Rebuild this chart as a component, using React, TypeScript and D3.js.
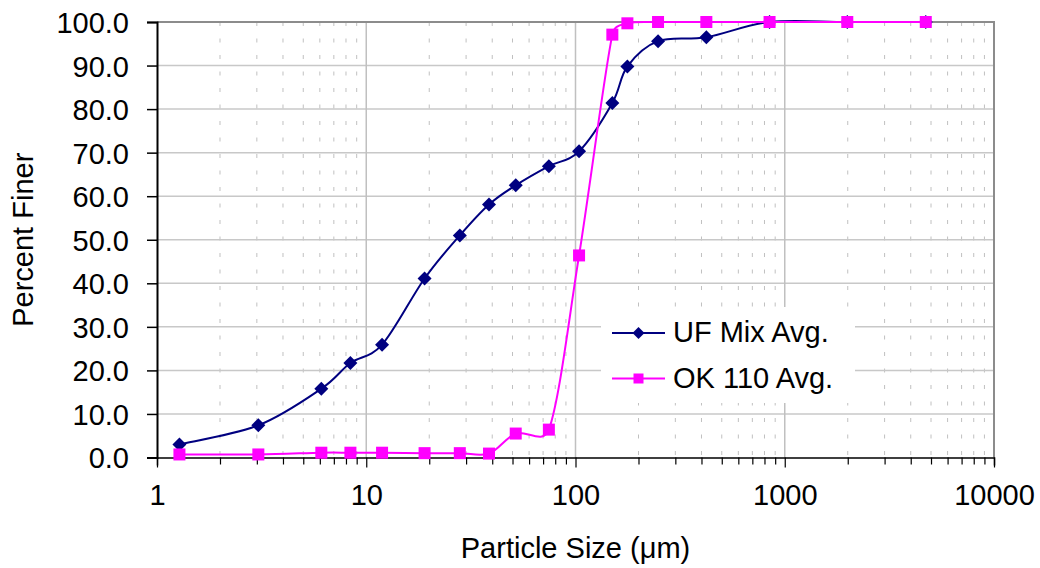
import React, { useEffect, useRef } from 'react';
import * as d3 from 'd3';

// sieve sizes (µm)
const sizes = [1.28, 3.05, 6.1, 8.4, 11.9, 19, 28, 38.6, 51.8, 74.6, 104, 150, 177, 248, 422, 846, 1990, 4720];
// percent finer
const ufMix = [3.0, 7.4, 15.8, 21.7, 25.9, 41.1, 51.0, 58.1, 62.5, 66.9, 70.3, 81.4, 89.8, 95.6, 96.5, 100, 100, 100];
const ok110 = [0.7, 0.7, 1.1, 1.1, 1.1, 1.0, 1.0, 0.9, 5.5, 6.4, 46.4, 97.1, 99.7, 100, 100, 100, 100, 100];
const seriesNames = ['UF Mix Avg.', 'OK 110 Avg.'];
const yTicks = [0, 10, 20, 30, 40, 50, 60, 70, 80, 90, 100];
const xTicks = [1, 10, 100, 1000, 10000];

const W = 1040;
const H = 568;
const FONT = 'Arial, "Liberation Sans", sans-serif';

// spreadsheet-style smoothing: cubic bezier with tangents (P[i+1]-P[i-1])/6,
// control arms limited to half of the segment so steep steps don't overshoot much
const smoothPath = (pts: [number, number][]) => {
    const p = d3.path();
    const n = pts.length;
    p.moveTo(pts[0][0], pts[0][1]);
    const tan = pts.map((pt, i) => {
        const a = pts[Math.max(0, i - 1)];
        const b = pts[Math.min(n - 1, i + 1)];
        return [(b[0] - a[0]) / 6, (b[1] - a[1]) / 6];
    });
    const clamp = (t: number[], max: number) => {
        const len = Math.hypot(t[0], t[1]);
        if (len <= max || len === 0) return t;
        return [t[0] * max / len, t[1] * max / len];
    };
    for (let i = 0; i < n - 1; i++) {
        const a = pts[i], b = pts[i + 1];
        const seg = Math.hypot(b[0] - a[0], b[1] - a[1]);
        const t0 = clamp(tan[i], seg / 2);
        const t1 = clamp(tan[i + 1], seg / 2);
        p.bezierCurveTo(a[0] + t0[0], a[1] + t0[1], b[0] - t1[0], b[1] - t1[1], b[0], b[1]);
    }
    return p.toString();
};

const App = () => {
    const svgRef = useRef<SVGSVGElement>(null);

    useEffect(() => {
        const svg = d3.select(svgRef.current);
        svg.selectAll('*').remove();

        const left = 157, right = 994, top = 22, bottom = 457.5;

        const x = d3.scaleLog().domain([1, 10000]).range([left, right]);
        const y = d3.scaleLinear().domain([0, 100]).range([bottom, top]);

        // minor positions 2..9 per decade
        const minors: number[] = [];
        for (let d = 1; d < 10000; d *= 10) {
            for (let k = 2; k <= 9; k++) minors.push(d * k);
        }

        const grid = svg.append('g');
        // dashed minor verticals
        grid.selectAll('line.minor')
            .data(minors)
            .join('line')
            .attr('x1', d => x(d)).attr('x2', d => x(d))
            .attr('y1', top).attr('y2', bottom)
            .attr('stroke', '#c0c0c0')
            .attr('stroke-width', 1)
            .attr('stroke-dasharray', '4,12.5');
        // solid horizontal gridlines
        grid.selectAll('line.h')
            .data(yTicks.slice(1))
            .join('line')
            .attr('x1', left).attr('x2', right)
            .attr('y1', d => y(d)).attr('y2', d => y(d))
            .attr('stroke', '#c8c8c8')
            .attr('stroke-width', 1.5);
        // decade verticals
        grid.selectAll('line.v')
            .data(xTicks.slice(1, -1))
            .join('line')
            .attr('x1', d => x(d)).attr('x2', d => x(d))
            .attr('y1', top).attr('y2', bottom)
            .attr('stroke', '#c0c0c0')
            .attr('stroke-width', 1.5);

        // plot frame (top / right)
        svg.append('path')
            .attr('d', `M${left},${top}H${right}V${bottom}`)
            .attr('fill', 'none')
            .attr('stroke', '#8c8c8c')
            .attr('stroke-width', 2);

        // legend background (covers grid)
        svg.append('rect')
            .attr('x', 601).attr('y', 307)
            .attr('width', 254).attr('height', 96)
            .attr('fill', '#fff');

        // axes
        const xAxis = d3.axisBottom(x)
            .tickValues([...xTicks, ...minors])
            .tickSize(8)
            .tickFormat(d => (xTicks.includes(+d) ? String(d) : ''));
        const gx = svg.append('g')
            .attr('transform', `translate(0,${bottom})`)
            .call(xAxis);
        gx.select('.domain').attr('stroke', '#000').attr('stroke-width', 1.5);
        gx.selectAll('.tick line').attr('stroke', '#000').attr('stroke-width', 1.2)
            .attr('y2', d => (xTicks.includes(+d) ? 10 : 7));
        gx.selectAll('.tick text')
            .attr('y', 27)
            .attr('dy', 29 * 0.71 + 'px')
            .attr('font-family', FONT)
            .attr('font-size', 29)
            .attr('fill', '#000');

        const yAxis = d3.axisLeft(y)
            .tickValues(yTicks)
            .tickSize(10)
            .tickPadding(18)
            .tickFormat(d => d3.format('.1f')(+d));
        const gy = svg.append('g')
            .attr('transform', `translate(${left},0)`)
            .call(yAxis);
        gy.select('.domain').attr('stroke', '#000').attr('stroke-width', 2);
        gy.selectAll('.tick line').attr('stroke', '#000').attr('stroke-width', 1.5);
        gy.selectAll('.tick text')
            .attr('font-family', FONT)
            .attr('font-size', 29)
            .attr('dy', '0.36em')
            .attr('fill', '#000');

        // series
        const uf = sizes.map((s, i) => [s, ufMix[i]] as [number, number]);
        const ok = sizes.map((s, i) => [s, ok110[i]] as [number, number]);
        const toPx = (arr: [number, number][]) => arr.map(d => [x(d[0]), y(d[1])] as [number, number]);

        const diamond = (cx: number, cy: number, r: number) =>
            `M${cx},${cy - r}L${cx + r},${cy}L${cx},${cy + r}L${cx - r},${cy}Z`;

        svg.append('path')
            .attr('d', smoothPath(toPx(uf)))
            .attr('fill', 'none')
            .attr('stroke', '#000080')
            .attr('stroke-width', 2);
        svg.append('g').selectAll('path')
            .data(uf)
            .join('path')
            .attr('d', d => diamond(x(d[0]), y(d[1]), 7))
            .attr('fill', '#000080');

        svg.append('path')
            .attr('d', smoothPath(toPx(ok)))
            .attr('fill', 'none')
            .attr('stroke', '#ff00ff')
            .attr('stroke-width', 2);
        svg.append('g').selectAll('rect')
            .data(ok)
            .join('rect')
            .attr('x', d => x(d[0]) - 6)
            .attr('y', d => y(d[1]) - 6)
            .attr('width', 12).attr('height', 12)
            .attr('fill', '#ff00ff');

        // legend
        const lg = svg.append('g');
        const rows = [
            { name: seriesNames[0], color: '#000080', shape: 'diamond', cy: 333 },
            { name: seriesNames[1], color: '#ff00ff', shape: 'square', cy: 378.5 },
        ];
        rows.forEach(r => {
            lg.append('line')
                .attr('x1', 612).attr('x2', 665)
                .attr('y1', r.cy).attr('y2', r.cy)
                .attr('stroke', r.color).attr('stroke-width', 2);
            if (r.shape === 'diamond') {
                lg.append('path').attr('d', diamond(638.5, r.cy, 6)).attr('fill', r.color);
            } else {
                lg.append('rect')
                    .attr('x', 633.5).attr('y', r.cy - 5)
                    .attr('width', 10).attr('height', 10)
                    .attr('fill', r.color);
            }
            lg.append('text')
                .attr('x', 673).attr('y', r.cy + 9)
                .attr('font-family', FONT)
                .attr('font-size', 29)
                .text(r.name);
        });

        // axis titles
        svg.append('text')
            .attr('x', (left + right) / 2)
            .attr('y', 558)
            .attr('text-anchor', 'middle')
            .attr('font-family', FONT)
            .attr('font-size', 29)
            .text('Particle Size (μm)');
        svg.append('text')
            .attr('transform', `translate(33,${(top + bottom) / 2}) rotate(-90)`)
            .attr('text-anchor', 'middle')
            .attr('font-family', FONT)
            .attr('font-size', 29)
            .text('Percent Finer');
    }, []);

    return (
        <svg
            ref={svgRef}
            width={W}
            height={H}
            style={{ position: 'fixed', left: 0, top: 0, background: '#fff' }}
        />
    );
};

export default App;
